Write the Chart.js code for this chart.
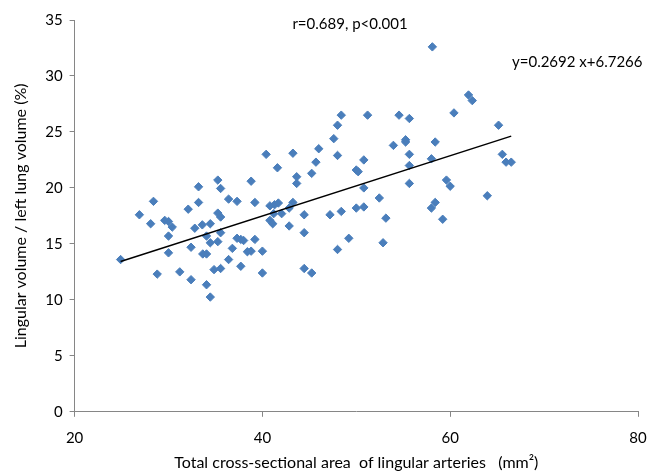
<!DOCTYPE html>
<html>
<head>
<meta charset="utf-8">
<script src="https://cdn.jsdelivr.net/npm/chart.js@4.4.1/dist/chart.umd.min.js"></script>
<style>
html,body{margin:0;padding:0;background:#fff;}
#wrap{width:648px;height:471px;position:relative;}
</style>
</head>
<body>
<div id="wrap"><canvas id="c" width="648" height="471"></canvas></div>
<script>
const xArea = [24.9,26.9,28.4,28.1,28.8,29.6,30.0,30.4,30.0,30.0,31.2,32.1,32.4,32.4,32.8,33.2,33.2,33.6,34.45,34.05,34.45,33.65,34.05,34.05,34.45,34.85,35.55,35.25,35.55,36.4,35.25,35.55,35.55,35.25,36.4,36.8,
48.4,48.0,47.6,46.0,48.0,43.25,40.4,41.6,45.7,45.25,43.65,43.65,38.8,37.3,39.2,40.8,41.3,41.7,43.25,42.85,41.2,42.05,44.45,47.2,48.4,40.8,41.1,42.85,44.45,37.3,37.7,38.0,39.2,38.4,38.8,40.0,37.7,40.0,44.45,45.25,48.0,49.2,
51.2,54.55,55.65,60.4,62.35,61.95,55.25,55.25,53.95,58.4,55.65,58.0,50.8,50.0,50.2,55.65,50.8,55.65,59.6,60.0,52.45,50.0,50.8,53.15,58.0,58.4,59.2,63.95,52.85,
65.15,65.55,65.95,66.5,58.1];
const yRatio = [13.6,17.6,18.8,16.8,12.3,17.1,17.0,16.5,15.7,14.2,12.5,18.1,14.7,11.8,16.4,20.1,18.7,16.7,16.8,15.7,15.1,14.1,14.1,11.35,10.25,12.7,12.8,20.7,19.95,19.0,17.75,17.4,16.0,15.2,13.6,14.6,
26.5,25.6,24.4,23.5,22.9,23.1,23.0,21.8,22.3,21.3,21.0,20.4,20.6,18.8,18.7,18.4,18.5,18.65,18.7,18.2,17.7,17.7,17.6,17.6,17.9,17.1,16.8,16.6,16.0,15.5,15.4,15.3,15.4,14.3,14.35,14.35,13.0,12.4,12.8,12.4,14.5,15.5,
26.5,26.5,26.2,26.7,27.8,28.3,24.3,24.1,23.8,24.1,23.0,22.6,22.5,21.6,21.45,22.0,20.0,20.4,20.7,20.15,19.1,18.2,18.3,17.3,18.2,18.7,17.2,19.3,15.1,
25.6,23.0,22.3,22.3,32.6];
const slope = 0.2692;
const intercept = 6.7266;
const statText = "r=0.689, p<0.001";
const eqText = "y=0.2692 x+6.7266";
const xTitle = "Total cross-sectional area  of lingular arteries   (mm\u00B2)";
const yTitle = "Lingular volume / left lung volume (%)";

const pts = xArea.map((x,i)=>({x:x,y:yRatio[i]}));
const xmin = Math.min(...xArea), xmax = Math.max(...xArea);
const trend = [{x:xmin,y:slope*xmin+intercept},{x:xmax,y:slope*xmax+intercept}];

const FONT = "Lato, 'Open Sans', sans-serif";
const textPlugin = {
  id:'texts',
  afterDraw(chart){
    const ctx = chart.ctx;
    ctx.save();
    ctx.fillStyle = '#000';
    ctx.font = "15px " + FONT;
    ctx.textBaseline = 'middle';
    ctx.textAlign = 'center';
    ctx.fillText(statText, 350, 24);
    ctx.textAlign = 'left';
    ctx.fillText(eqText, 512, 62);
    ctx.restore();
  }
};

new Chart(document.getElementById('c'), {
  type:'scatter',
  data:{datasets:[
    {data:pts, pointStyle:'rectRot', pointRadius:4.2, backgroundColor:'#4A7EBB', borderColor:'#4A7EBB', borderWidth:1, order:2},
    {type:'line', data:trend, borderColor:'#000', borderWidth:1.5, pointRadius:0, fill:false, order:1}
  ]},
  options:{
    responsive:false, animation:false,
    layout:{padding:{top:20,right:0,left:11,bottom:-1}},
    plugins:{legend:{display:false}, tooltip:{enabled:false}},
    scales:{
      x:{min:20,max:80,
        afterFit(scale){ scale.paddingRight = 10; },
        ticks:{stepSize:20,color:'#000',font:{family:FONT,size:15},padding:12},
        grid:{display:true,drawOnChartArea:false,drawTicks:true,tickLength:5,color:'#868686'},
        border:{color:'#868686',width:1},
        title:{display:true,text:xTitle,color:'#000',font:{family:FONT,size:16},padding:{top:-6,bottom:0}}
      },
      y:{min:0,max:35,
        ticks:{stepSize:5,color:'#000',font:{family:FONT,size:15},padding:7},
        grid:{display:true,drawOnChartArea:false,drawTicks:true,tickLength:5,color:'#868686'},
        border:{color:'#868686',width:1},
        title:{display:true,text:yTitle,color:'#000',font:{family:FONT,size:16},padding:{top:0,bottom:8}}
      }
    }
  },
  plugins:[textPlugin]
});
</script>
</body>
</html>
